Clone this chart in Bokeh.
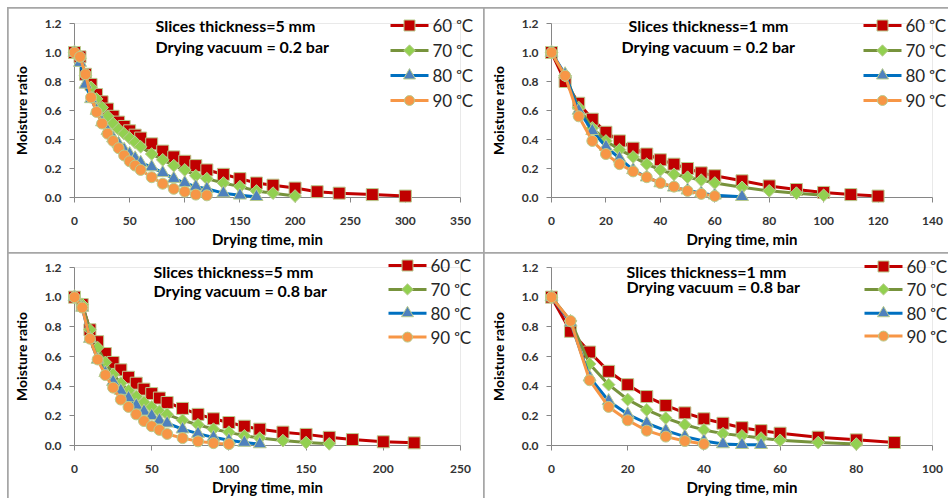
import math
from bokeh.plotting import figure
from bokeh.layouts import gridplot
from bokeh.models import FixedTicker, Range1d
from bokeh.core.properties import value
from bokeh.embed import file_html
from bokeh.resources import INLINE

# ---------------- data ----------------
series_labels = ["60 ᵒC", "70 ᵒC", "80 ᵒC", "90 ᵒC"]
y_ticks = [0.0, 0.2, 0.4, 0.6, 0.8, 1.0, 1.2]
y_tick_labels = ["0.0", "0.2", "0.4", "0.6", "0.8", "1.0", "1.2"]

# Panel A: 5 mm, 0.2 bar
a_x_ticks = [0, 50, 100, 150, 200, 250, 300, 350]
a_t60 = [0, 5, 10, 15, 20, 25, 30, 35, 40, 45, 50, 55, 60, 70, 80, 90, 100, 110, 120, 135, 150, 165, 180, 200, 220, 240, 270, 300]
a_m60 = [1.00, 0.97, 0.85, 0.78, 0.71, 0.66, 0.61, 0.56, 0.52, 0.49, 0.46, 0.43, 0.41, 0.37, 0.32, 0.28, 0.25, 0.22, 0.19, 0.16, 0.13, 0.10, 0.085, 0.065, 0.04, 0.03, 0.02, 0.01]
a_t70 = [0, 5, 10, 15, 20, 25, 30, 35, 40, 45, 50, 55, 60, 70, 80, 90, 100, 110, 120, 135, 150, 165, 180, 200]
a_m70 = [1.00, 0.96, 0.84, 0.76, 0.68, 0.62, 0.56, 0.51, 0.47, 0.44, 0.41, 0.38, 0.35, 0.30, 0.26, 0.22, 0.19, 0.15, 0.13, 0.10, 0.075, 0.045, 0.03, 0.01]
a_t80 = [0, 5, 10, 15, 20, 25, 30, 35, 40, 45, 50, 55, 60, 70, 80, 90, 100, 110, 120, 135, 150, 165]
a_m80 = [1.00, 0.93, 0.78, 0.68, 0.60, 0.52, 0.46, 0.41, 0.37, 0.33, 0.30, 0.27, 0.24, 0.21, 0.17, 0.13, 0.10, 0.075, 0.06, 0.03, 0.015, 0.005]
a_t90 = [0, 5, 10, 15, 20, 25, 30, 35, 40, 45, 50, 55, 60, 70, 80, 90, 100, 110, 120]
a_m90 = [1.00, 0.97, 0.85, 0.69, 0.59, 0.51, 0.44, 0.39, 0.34, 0.29, 0.25, 0.22, 0.19, 0.14, 0.095, 0.06, 0.04, 0.02, 0.015]

# Panel B: 1 mm, 0.2 bar
b_x_ticks = [0, 20, 40, 60, 80, 100, 120, 140]
b_t60 = [0, 5, 10, 15, 20, 25, 30, 35, 40, 45, 50, 55, 60, 70, 80, 90, 100, 110, 120]
b_m60 = [1.00, 0.80, 0.65, 0.54, 0.45, 0.39, 0.34, 0.30, 0.26, 0.23, 0.20, 0.17, 0.15, 0.115, 0.08, 0.055, 0.035, 0.02, 0.01]
b_t70 = [0, 5, 10, 15, 20, 25, 30, 35, 40, 45, 50, 55, 60, 70, 80, 90, 100]
b_m70 = [1.00, 0.84, 0.62, 0.48, 0.39, 0.33, 0.28, 0.23, 0.19, 0.16, 0.14, 0.12, 0.10, 0.07, 0.046, 0.03, 0.015]
b_t80 = [0, 5, 10, 15, 20, 25, 30, 35, 40, 45, 50, 55, 60, 70]
b_m80 = [1.00, 0.85, 0.60, 0.46, 0.35, 0.27, 0.19, 0.14, 0.10, 0.07, 0.05, 0.03, 0.015, 0.005]
b_t90 = [0, 5, 10, 15, 20, 25, 30, 35, 40, 45, 50, 55, 60]
b_m90 = [1.00, 0.84, 0.56, 0.39, 0.30, 0.23, 0.18, 0.14, 0.10, 0.075, 0.045, 0.025, 0.01]

# Panel C: 5 mm, 0.8 bar
c_x_ticks = [0, 50, 100, 150, 200, 250]
c_t60 = [0, 5, 10, 15, 20, 25, 30, 35, 40, 45, 50, 55, 60, 70, 80, 90, 100, 110, 120, 135, 150, 165, 180, 200, 220]
c_m60 = [1.00, 0.95, 0.78, 0.70, 0.62, 0.56, 0.51, 0.46, 0.42, 0.38, 0.35, 0.32, 0.29, 0.25, 0.21, 0.18, 0.155, 0.13, 0.11, 0.09, 0.075, 0.055, 0.04, 0.025, 0.018]
c_t70 = [0, 5, 10, 15, 20, 25, 30, 35, 40, 45, 50, 55, 60, 70, 80, 90, 100, 110, 120, 135, 150, 165]
c_m70 = [1.00, 0.95, 0.78, 0.66, 0.56, 0.48, 0.42, 0.37, 0.33, 0.29, 0.26, 0.23, 0.21, 0.17, 0.14, 0.11, 0.09, 0.065, 0.05, 0.033, 0.02, 0.011]
c_t80 = [0, 5, 10, 15, 20, 25, 30, 35, 40, 45, 50, 55, 60, 70, 80, 90, 100, 110, 120]
c_m80 = [1.00, 0.93, 0.72, 0.58, 0.49, 0.43, 0.37, 0.32, 0.27, 0.23, 0.20, 0.17, 0.15, 0.11, 0.08, 0.055, 0.035, 0.02, 0.01]
c_t90 = [0, 5, 10, 15, 20, 25, 30, 35, 40, 45, 50, 55, 60, 70, 80, 90, 100]
c_m90 = [1.00, 0.93, 0.72, 0.58, 0.475, 0.39, 0.31, 0.26, 0.21, 0.165, 0.13, 0.105, 0.078, 0.05, 0.028, 0.016, 0.009]

# Panel D: 1 mm, 0.8 bar
d_x_ticks = [0, 20, 40, 60, 80, 100]
d_t60 = [0, 5, 10, 15, 20, 25, 30, 35, 40, 45, 50, 55, 60, 70, 80, 90]
d_m60 = [1.00, 0.77, 0.63, 0.50, 0.41, 0.33, 0.27, 0.22, 0.18, 0.15, 0.12, 0.10, 0.083, 0.056, 0.038, 0.02]
d_t70 = [0, 5, 10, 15, 20, 25, 30, 35, 40, 45, 50, 55, 60, 70, 80]
d_m70 = [1.00, 0.84, 0.55, 0.41, 0.31, 0.24, 0.185, 0.14, 0.105, 0.08, 0.065, 0.05, 0.035, 0.02, 0.01]
d_t80 = [0, 5, 10, 15, 20, 25, 30, 35, 40, 45, 50, 55]
d_m80 = [1.00, 0.83, 0.46, 0.30, 0.21, 0.15, 0.10, 0.06, 0.03, 0.01, 0.005, 0.005]
d_t90 = [0, 5, 10, 15, 20, 25, 30, 35, 40]
d_m90 = [1.00, 0.84, 0.44, 0.26, 0.17, 0.10, 0.06, 0.03, 0.01]

# ---------------- styles ----------------
FONT = "Lato"
line_colors = ["#C00000", "#77933C", "#0070C0", "#F79646"]
fill_colors = ["#C00000", "#92D050", "#4F81BD", "#F79646"]
edge_color = "#B9CC8E"
marker_kinds = ["square", "square", "triangle", "circle"]
marker_sizes = [12, 9, 13, 11]
marker_angles = [0.0, math.pi / 4, 0.0, 0.0]
AXIS_GRAY = "#868686"
BORDER_GRAY = "#A6A6A6"


def make_panel(ts, ms, xmax, xticks, notes, note_px, note_align, note_py,
               width, height, left, fw, top, fh, leg_px, leg_py):
    p = figure(width=width, height=height, x_range=Range1d(0, xmax), y_range=Range1d(0, 1.2),
               output_backend="svg", toolbar_location=None,
               min_border_left=left, min_border_right=width - left - fw,
               min_border_top=top, min_border_bottom=height - top - fh)
    p.outline_line_color = None
    p.xgrid.visible = False
    p.ygrid.visible = False

    # pixel offsets inside the frame -> data units (layout helpers, not data)
    def fx(px):
        return px / fw * xmax

    def fy(py):
        return 1.2 - py / fh * 1.2

    p.xaxis.ticker = FixedTicker(ticks=xticks)
    p.yaxis.ticker = FixedTicker(ticks=y_ticks)
    p.yaxis.major_label_overrides = {t: s for t, s in zip(y_ticks, y_tick_labels)}
    for ax in (p.xaxis, p.yaxis):
        ax.axis_line_color = AXIS_GRAY
        ax.major_tick_line_color = AXIS_GRAY
        ax.major_tick_out = 5
        ax.major_tick_in = 0
        ax.minor_tick_line_color = None
        ax.major_label_text_font = FONT
        ax.major_label_text_font_style = "bold"
        ax.major_label_text_font_size = "12px"
        ax.major_label_text_color = "#333333"
        ax.axis_label_text_font = FONT
        ax.axis_label_text_font_style = "bold"
        ax.axis_label_text_color = "black"
    p.xaxis.axis_label = "Drying time, min"
    p.xaxis.axis_label_text_font_size = "15px"
    p.xaxis.major_label_standoff = 14
    p.xaxis.axis_label_standoff = 2
    p.yaxis.axis_label = "Moisture ratio"
    p.yaxis.axis_label_text_font_size = "14px"
    p.yaxis.major_label_standoff = 8
    p.yaxis.axis_label_standoff = 12

    for i in range(4):
        p.line(ts[i], ms[i], line_color=line_colors[i], line_width=3, level="overlay")
        p.scatter(ts[i], ms[i], marker=marker_kinds[i], size=marker_sizes[i], angle=marker_angles[i],
                  fill_color=fill_colors[i], line_color=edge_color, line_width=1, level="overlay")

    # legend (drawn as unclipped overlay glyphs so it may sit over the frame edge)
    for i in range(4):
        ly = fy(leg_py[i])
        x0, x1 = fx(leg_px), fx(leg_px + 38)
        p.line([x0, x1], [ly, ly], line_color=line_colors[i], line_width=3, level="overlay")
        p.scatter([fx(leg_px + 19)], [ly], marker=marker_kinds[i], size=marker_sizes[i] - 1,
                  angle=marker_angles[i], fill_color=fill_colors[i], line_color=edge_color,
                  line_width=1, level="overlay")
        p.text([fx(leg_px + 42)], [ly], text=[series_labels[i]], text_font=value(FONT),
               text_font_size=value("17px"), text_baseline="middle", text_align="left",
               text_color="#262626", level="overlay")

    for txt, py in zip(notes, note_py):
        p.text([fx(note_px)], [fy(py)], text=[txt], text_font=value(FONT), text_font_style="bold",
               text_font_size=value("16px"), text_align=note_align, text_baseline="middle",
               text_color="black", level="overlay")
    return p


W_L, W_R = 475, 464
H_T, H_B = 244, 245

p1 = make_panel([a_t60, a_t70, a_t80, a_t90], [a_m60, a_m70, a_m80, a_m90], 350, a_x_ticks,
                ["Slices thickness=5 mm", "Drying vacuum = 0.2 bar"], 81, "left", [2, 23],
                W_L, H_T, 66, 386, 15, 174, 316, [2, 27, 52, 77])
p2 = make_panel([b_t60, b_t70, b_t80, b_t90], [b_m60, b_m70, b_m80, b_m90], 140, b_x_ticks,
                ["Slices thickness=1 mm", "Drying vacuum = 0.2 bar"], 157, "center", [2, 23],
                W_R, H_T, 67, 381, 15, 174, 312, [2, 27, 52, 77])
p3 = make_panel([c_t60, c_t70, c_t80, c_t90], [c_m60, c_m70, c_m80, c_m90], 250, c_x_ticks,
                ["Slices thickness=5 mm", "Drying vacuum = 0.8 bar"], 79, "left", [4, 23],
                W_L, H_B, 66, 386, 14, 179, 314, [-2, 22, 46, 70])
p4 = make_panel([d_t60, d_t70, d_t80, d_t90], [d_m60, d_m70, d_m80, d_m90], 100, d_x_ticks,
                ["Slices thickness=1 mm", "Drying vacuum = 0.8 bar"], 75, "left", [4, 19],
                W_R, H_B, 67, 381, 14, 179, 313, [-1, 22, 46, 69])

grid = gridplot([[p1, p2], [p3, p4]], toolbar_location=None)
grid.spacing = 1
grid.styles = {"background-color": BORDER_GRAY, "padding": "1px 0px 0px 1px",
               "margin": "7px 0px 0px 7px"}

open("out.html", "w").write(file_html(grid, INLINE))
